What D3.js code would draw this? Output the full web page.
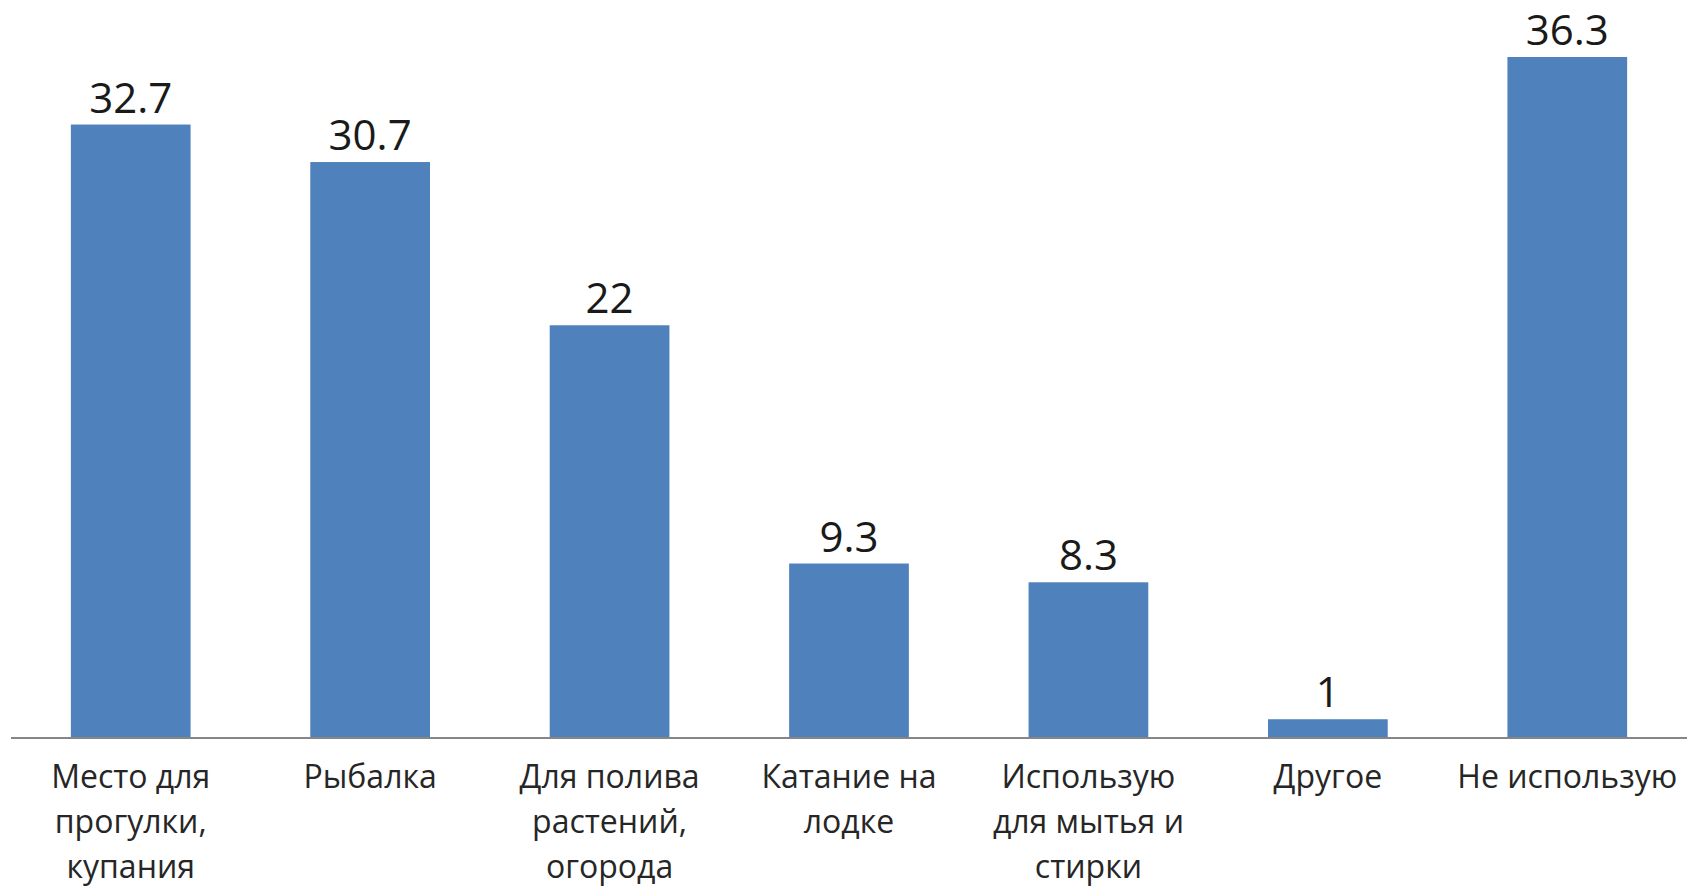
<!DOCTYPE html>
<html lang="ru">
	<head>
		<meta charset="utf-8">
		<title>bar chart</title>
		<script type="text/javascript" src="https://d3js.org/d3.v7.min.js"></script>
		<style type="text/css">
            body{margin:0;background:#fff;}
            #chart1 text{font-family:"Open Sans",sans-serif;}
		</style>
	</head>
	<body>
    <div id="chart1"></div>
		<script type="text/javascript">
            // categories (line breaks as in the picture) and values
            var categories = [
                "Место для\nпрогулки,\nкупания",
                "Рыбалка",
                "Для полива\nрастений,\nогорода",
                "Катание на\nлодке",
                "Использую\nдля мытья и\nстирки",
                "Другое",
                "Не использую"
            ]
            var values = [32.7, 30.7, 22, 9.3, 8.3, 1, 36.3]

            var w = 1687
            var h = 886
            var axisY = 738   // baseline of the bars

            var xScale = d3.scaleBand()
                .domain(d3.range(categories.length))
                .range([11, 1687])
                .paddingInner(0.5)
                .paddingOuter(0.25)

            var yScale = d3.scaleLinear()
                .domain([0, 36.3])
                .range([axisY, 57])

            var svg = d3.select("#chart1")
                .append("svg")
                .attr("width", w)
                .attr("height", h)

            svg.selectAll("rect")
                .data(values)
                .enter()
                .append("rect")
                .attr("x", function(d, i){ return xScale(i) })
                .attr("y", function(d){ return yScale(d) })
                .attr("width", xScale.bandwidth())
                .attr("height", function(d){ return axisY - yScale(d) })
                .attr("fill", "#4f81bd")

            // axis line
            svg.append("line")
                .attr("x1", 11)
                .attr("x2", 1687)
                .attr("y1", axisY)
                .attr("y2", axisY)
                .attr("stroke", "#868686")
                .attr("stroke-width", 2)

            // value labels
            svg.selectAll("text.val")
                .data(values)
                .enter()
                .append("text")
                .attr("class", "val")
                .attr("x", function(d, i){ return xScale(i) + xScale.bandwidth() / 2 })
                .attr("y", function(d){ return yScale(d) - 12 })
                .attr("text-anchor", "middle")
                .attr("font-size", 42)
                .attr("fill", "#1a1a1a")
                .text(function(d){ return d })

            // category labels
            var cat = svg.selectAll("text.cat")
                .data(categories)
                .enter()
                .append("text")
                .attr("class", "cat")
                .attr("text-anchor", "middle")
                .attr("font-size", 32)
                .attr("fill", "#262626")

            cat.selectAll("tspan")
                .data(function(d, i){
                    return d.split("\n").map(function(s){ return {s: s, i: i} })
                })
                .enter()
                .append("tspan")
                .attr("x", function(d){ return xScale(d.i) + xScale.bandwidth() / 2 })
                .attr("y", function(d, j){ return 788 + j * 45 })
                .text(function(d){ return d.s })
        </script>
	</body>
</html>
